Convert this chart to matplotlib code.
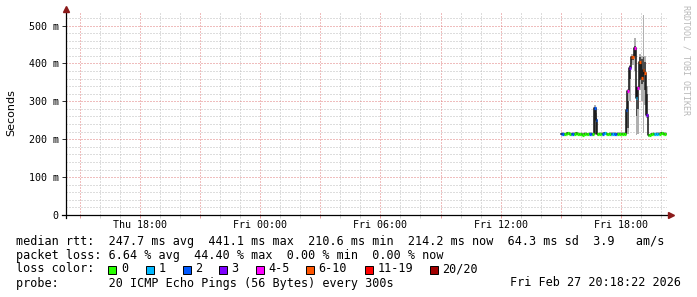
import numpy as np
import pandas as pd
import matplotlib
matplotlib.use('Agg')
import matplotlib.pyplot as plt
import matplotlib.dates as mdates
from matplotlib.ticker import MultipleLocator, FuncFormatter
from matplotlib.patches import Rectangle

# 5 minute steps, each value covers the 5 minutes that end at its timestamp
times = pd.date_range('2026-02-27 15:05', periods=63, freq='5min')

# median rtt in ms
median_ms = [214, 215, 213, 215, 216, 214, 213, 215, 214, 216,
             215, 213, 214, 212, 215, 214, 213, 215, 214, 213,
             283, 251, 213, 214, 215, 214, 216, 214, 213, 215,
             214, 215, 214, 213, 214, 215, 214, 214, 214, 278,
             328, 389, 418, 418, 441, 310, 336, 405, 362, 383,
             375, 265, 210, 211, 213, 214, 213, 214, 214, 215,
             216, 214, 214]

# lost pings out of 20
loss = [2, 2, 0, 0, 0, 0, 2, 2, 0, 0,
        0, 0, 0, 0, 0, 0, 0, 2, 2, 0,
        2, 2, 0, 0, 0, 2, 1, 0, 0, 0,
        2, 1, 2, 2, 0, 0, 0, 0, 0, 2,
        4, 3, 7, 7, 5, 1, 4, 8, 7, 9,
        8, 3, 0, 0, 0, 0, 1, 1, 1, 0,
        0, 0, 0]

# smoke: full ping spread (light) and central pings (dark), ms
smoke_lo = [210, 211, 209, 211, 212, 210, 209, 211, 210, 212,
            211, 209, 210, 208, 211, 210, 209, 211, 210, 209,
            211, 211, 209, 210, 211, 210, 212, 210, 209, 211,
            210, 211, 210, 209, 210, 211, 210, 210, 210, 212,
            213, 300, 400, 395, 380, 212, 214, 330, 300, 217,
            290, 255, 207, 208, 209, 210, 209, 210, 210, 211,
            212, 210, 210]
smoke_hi = [218, 219, 217, 219, 220, 218, 217, 219, 218, 220,
            219, 217, 218, 216, 219, 218, 217, 219, 218, 217,
            290, 270, 217, 218, 219, 218, 220, 218, 217, 219,
            218, 219, 218, 217, 218, 219, 218, 218, 218, 285,
            333, 395, 425, 425, 466, 320, 340, 425, 420, 529,
            420, 340, 214, 215, 217, 218, 217, 218, 218, 219,
            220, 218, 218]
core_lo = [212, 213, 211, 213, 214, 212, 211, 213, 212, 214,
           213, 211, 212, 210, 213, 212, 211, 213, 212, 211,
           214, 213, 211, 212, 213, 212, 214, 212, 211, 213,
           212, 213, 212, 211, 212, 213, 212, 212, 212, 214,
           230, 360, 410, 410, 420, 260, 280, 355, 345, 350,
           330, 262, 209, 210, 211, 212, 211, 212, 212, 213,
           214, 212, 212]
core_hi = [216, 217, 215, 217, 218, 216, 215, 217, 216, 218,
           217, 215, 216, 214, 217, 216, 215, 217, 216, 215,
           283, 256, 215, 216, 217, 216, 218, 216, 215, 217,
           216, 217, 216, 215, 216, 217, 216, 216, 216, 278,
           300, 392, 420, 420, 445, 312, 336, 418, 412, 418,
           405, 320, 212, 213, 215, 216, 215, 216, 216, 217,
           218, 216, 216]

loss_labels = ['0', '1', '2', '3', '4-5', '6-10', '11-19', '20/20']
loss_upper = [0, 1, 2, 3, 5, 10, 19, 20]
loss_colors = ['#26ff00', '#00b8ff', '#0059ff', '#7e00ff',
               '#ff00ff', '#ff5500', '#ff0000', '#a10000']

stats_line = 'median rtt:  247.7 ms avg  441.1 ms max  210.6 ms min  214.2 ms now  64.3 ms sd  3.9   am/s'
loss_line = 'packet loss: 6.64 % avg  44.40 % max  0.00 % min  0.00 % now'
probe_line = 'probe:       20 ICMP Echo Pings (56 Bytes) every 300s'
stamp = 'Fri Feb 27 20:18:22 2026'

mono = 'DejaVu Sans Mono'
W, H = 697, 297

def fx(px):
    return px / W

def fy(py):
    return 1 - py / H

def loss_color(n):
    for up, c in zip(loss_upper, loss_colors):
        if n <= up:
            return c
    return loss_colors[-1]

fig = plt.figure(figsize=(6.97, 2.97), dpi=100, facecolor='white')
ax = fig.add_axes([fx(66), fy(215), 601 / W, 202 / H])

x = mdates.date2num(times.to_pydatetime())
step = 5 / 1440
med = np.array(median_ms)

# smoke
ax.bar(x - step, np.array(smoke_hi) - np.array(smoke_lo), bottom=smoke_lo,
       width=step, align='edge', color='#b0b0b0', linewidth=0, zorder=2)
ax.bar(x - step, np.array(core_hi) - np.array(core_lo), bottom=core_lo,
       width=step, align='edge', color='#4a4a4a', linewidth=0, zorder=3)

# median line, black steps then loss coloured pieces
ax.step(np.r_[x[0] - step, x], np.r_[med[0], med], where='pre',
        color='#111111', lw=1.1, zorder=4)
ax.hlines(med, x - step, x, colors=[loss_color(n) for n in loss],
          lw=2.3, zorder=5)

start = mdates.date2num(pd.Timestamp('2026-02-26 14:18:22').to_pydatetime())
end = mdates.date2num(pd.Timestamp('2026-02-27 20:18:22').to_pydatetime())
ax.set_xlim(start, end)
ax.set_ylim(0, 533)

# grid
ax.xaxis.set_major_locator(mdates.HourLocator(byhour=range(0, 24, 3)))
ax.xaxis.set_minor_locator(mdates.HourLocator())
ax.yaxis.set_major_locator(MultipleLocator(100))
ax.yaxis.set_minor_locator(MultipleLocator(20))

def xfmt(v, pos):
    d = mdates.num2date(v)
    return d.strftime('%a %H:%M') if d.hour % 6 == 0 else ''

def yfmt(v, pos):
    return '0' if v == 0 else f'{int(v)} m'

ax.xaxis.set_major_formatter(FuncFormatter(xfmt))
ax.yaxis.set_major_formatter(FuncFormatter(yfmt))

ax.grid(which='minor', color='#bdbdbd', linestyle=(0, (1, 2)), lw=0.72)
ax.grid(which='major', color='#e07c7c', linestyle=(0, (1, 2)), lw=0.72)
ax.set_axisbelow(True)

for s in ax.spines.values():
    s.set_visible(False)

ax.tick_params(axis='x', which='major', length=2, width=0.72, color='#e89a9a',
               pad=1.5, labelsize=7.2)
ax.tick_params(axis='x', which='minor', length=2, width=0.72, color='#cfcfcf')
ax.tick_params(axis='y', which='major', length=3, width=0.72, color='#333333',
               pad=2.2, labelsize=7.2)
ax.tick_params(axis='y', which='minor', length=0)
for lab in ax.get_xticklabels() + ax.get_yticklabels():
    lab.set_family(mono)

# axis lines with arrows
ax.plot([-4 / 601, 1.0], [0, 0], transform=ax.transAxes, clip_on=False,
        color='black', lw=0.9, zorder=6)
ax.plot([0, 0], [-3 / 202, 1.0], transform=ax.transAxes, clip_on=False,
        color='black', lw=0.9, zorder=6)
ax.plot(1.0 + 4 / 601, 0, marker='>', ms=5, color='#8b1a1a',
        transform=ax.transAxes, clip_on=False, zorder=7)
ax.plot(0, 1.0 + 4 / 202, marker='^', ms=5, color='#8b1a1a',
        transform=ax.transAxes, clip_on=False, zorder=7)

fig.text(fx(11), fy(113), 'Seconds', rotation=90, ha='center', va='center',
         fontsize=8, family='DejaVu Sans')
fig.text(fx(686), fy(5), 'RRDTOOL / TOBI OETIKER', rotation=270, ha='center',
         va='top', fontsize=6, family=mono, color='#b8b8b8')

# legend block
fig.text(fx(16), fy(244.5), stats_line, fontsize=8.5, family=mono, va='baseline')
fig.text(fx(16), fy(258.5), loss_line, fontsize=8.5, family=mono, va='baseline')
fig.text(fx(16), fy(272.5), 'loss color:', fontsize=8.5, family=mono, va='baseline')
fig.text(fx(16), fy(286.5), probe_line, fontsize=8.5, family=mono, va='baseline')
fig.text(fx(681), fy(286.5), stamp, fontsize=8.5, family=mono, va='baseline', ha='right')

box_x = [108.3, 146, 182.7, 219, 256, 306, 365, 430]
for bx, lab, c in zip(box_x, loss_labels, loss_colors):
    fig.add_artist(Rectangle((fx(bx), fy(273.5)), 8 / W, 8 / H,
                             transform=fig.transFigure, facecolor=c,
                             edgecolor='black', lw=0.7))
    fig.text(fx(bx + 12.5), fy(272.5), lab, fontsize=8.5, family=mono, va='baseline')

fig.savefig('out.png', dpi=100, facecolor='white')
